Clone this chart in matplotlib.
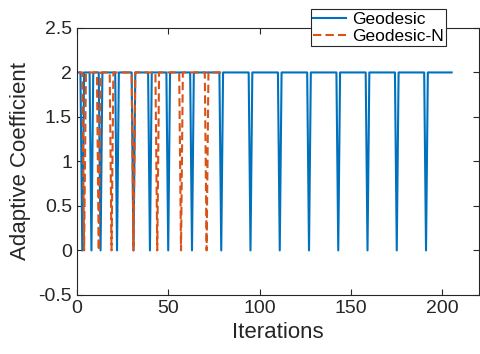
import numpy as np
import matplotlib
matplotlib.use('Agg')
import matplotlib.pyplot as plt

plt.rcParams['font.family'] = ['Liberation Sans', 'DejaVu Sans']

# iterations where the adaptive coefficient drops to 0
geo_last = 205
geo_dips = [3, 8, 13, 22, 31, 40, 50, 63, 79, 95, 111, 127, 143, 159, 175, 191]
geoN_last = 80
geoN_dips = [4, 12, 19, 31, 44, 57, 71]
y_ticks = [-0.5, 0, 0.5, 1, 1.5, 2, 2.5]
x_ticks = [0, 50, 100, 150, 200]

def series(last, dips):
    it = np.arange(1, last + 1)
    val = np.full(len(it), 2.0)
    for d in dips:
        val[d - 1] = 0.0
    return it, val

it_g, v_g = series(geo_last, geo_dips)
it_n, v_n = series(geoN_last, geoN_dips)

fig = plt.figure(figsize=(4.8, 3.54), dpi=100)
ax = fig.add_axes([0.160, 0.167, 0.838, 0.754])
ax.plot(it_g, v_g, color='#0072BD', lw=1.5, label='Geodesic')
ax.plot(it_n, v_n, color='#D95319', lw=1.5, dashes=(4, 2), label='Geodesic-N')

ax.set_xlim(0, 220)
ax.set_ylim(-0.5, 2.5)
ax.set_xticks(x_ticks)
ax.set_yticks(y_ticks)
ax.set_yticklabels(['-0.5', '0', '0.5', '1', '1.5', '2', '2.5'])
ax.tick_params(direction='in', top=True, right=True, labelsize=14, length=4,
               width=0.8, colors='#262626')
for s in ax.spines.values():
    s.set_color('#262626')
    s.set_linewidth(0.8)
ax.set_xlabel('Iterations', fontsize=16, color='#262626', labelpad=4)
ax.set_ylabel('Adaptive Coefficient', fontsize=16, color='#262626', labelpad=5)

leg = ax.legend(loc='upper right', bbox_to_anchor=(446 / 480, 1 - 9 / 354),
                bbox_transform=fig.transFigure, fontsize=12.5, fancybox=False,
                framealpha=1, edgecolor='#262626', borderpad=0.15,
                labelspacing=0.1, handlelength=1.9, handletextpad=0.3,
                borderaxespad=0)
leg.get_frame().set_linewidth(0.8)

fig.savefig('out.png', dpi=100)
